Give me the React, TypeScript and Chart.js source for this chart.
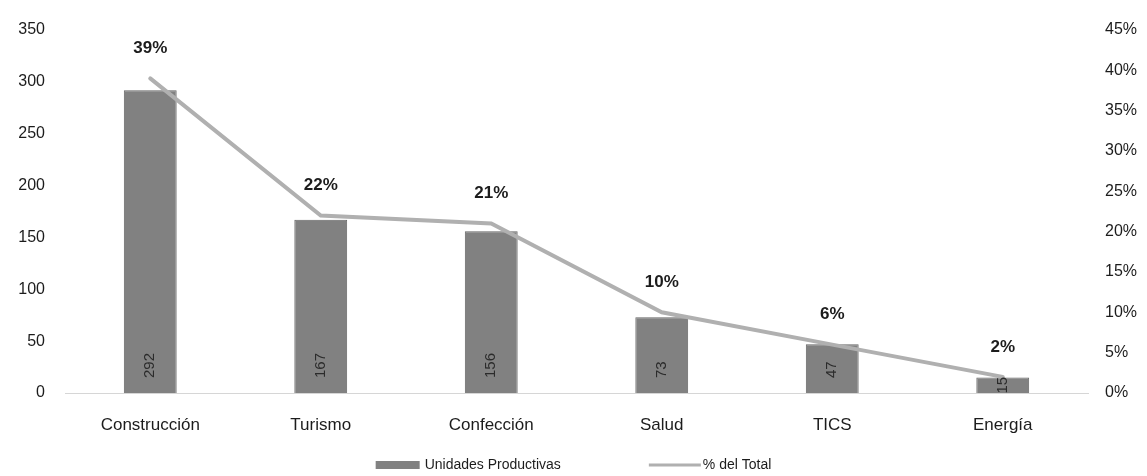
import React, { useEffect, useRef } from "react";
import { Chart, registerables } from "chart.js";

Chart.register(...registerables);

const categories = ["Construcción", "Turismo", "Confección", "Salud", "TICS", "Energía"];
const unidades = [292, 167, 156, 73, 47, 15];
const porcentajes = [39, 22, 21, 10, 6, 2];
const leftTicks = { min: 0, max: 350, step: 50 };
const rightTicks = { min: 0, max: 45, step: 5 };
const seriesNames = ["Unidades Productivas", "% del Total"];

const BAR_COLOR = "#818181";
const BAR_BORDER = "#666666";
const LINE_COLOR = "#b0b0b0";
const TEXT = "#1c1c1c";
const FONT = "'Liberation Sans', Arial, sans-serif";

const labelsPlugin = {
  id: "customLabels",
  afterDatasetsDraw(chart: any) {
    const ctx = chart.ctx;
    ctx.save();
    // value labels inside bars (rotated)
    const barMeta = chart.getDatasetMeta(0);
    barMeta.data.forEach((el: any, i: number) => {
      const base = el.base;
      const h = base - el.y;
      ctx.save();
      ctx.font = `15px ${FONT}`;
      ctx.fillStyle = "#2b2b2b";
      ctx.textBaseline = "middle";
      const txt = String(unidades[i]);
      const tw = ctx.measureText(txt).width;
      ctx.translate(el.x, 0);
      ctx.rotate(-Math.PI / 2);
      if (h < tw + 20) {
        ctx.textAlign = "center";
        ctx.fillText(txt, -(base - h / 2), 0);
      } else {
        ctx.textAlign = "left";
        ctx.fillText(txt, -(base - 15), 0);
      }
      ctx.restore();
    });
    // percentage labels above line points
    const lineMeta = chart.getDatasetMeta(1);
    ctx.font = `bold 17px ${FONT}`;
    ctx.fillStyle = TEXT;
    ctx.textAlign = "center";
    ctx.textBaseline = "middle";
    lineMeta.data.forEach((el: any, i: number) => {
      ctx.fillText(porcentajes[i] + "%", el.x, el.y - 30);
    });
    ctx.restore();
  },
  afterDraw(chart: any) {
    const ctx = chart.ctx;
    ctx.save();
    ctx.font = `14px ${FONT}`;
    const w1 = ctx.measureText(seriesNames[0]).width;
    const w2 = ctx.measureText(seriesNames[1]).width;
    const boxW = 44, gap1 = 5, between = 88, lineW = 52, gap2 = 2;
    const total = boxW + gap1 + w1 + between + lineW + gap2 + w2;
    let x = (chart.width - total) / 2;
    const y = 465;
    ctx.fillStyle = BAR_COLOR;
    ctx.fillRect(x, y - 4, boxW, 8);
    x += boxW + gap1;
    ctx.fillStyle = TEXT;
    ctx.textBaseline = "middle";
    ctx.textAlign = "left";
    ctx.fillText(seriesNames[0], x, y);
    x += w1 + between;
    ctx.strokeStyle = LINE_COLOR;
    ctx.lineWidth = 3;
    ctx.beginPath();
    ctx.moveTo(x, y);
    ctx.lineTo(x + lineW, y);
    ctx.stroke();
    x += lineW + gap2;
    ctx.fillText(seriesNames[1], x, y);
    ctx.restore();
  },
};

export default function App() {
  const ref = useRef<HTMLCanvasElement>(null);
  useEffect(() => {
    document.body.style.margin = "0";
    const chart = new Chart(ref.current!, {
      type: "bar",
      data: {
        labels: categories,
        datasets: [
          {
            type: "bar",
            label: seriesNames[0],
            data: unidades,
            backgroundColor: BAR_COLOR,
            borderColor: BAR_BORDER,
            borderWidth: 1,
            barPercentage: 0.31,
            categoryPercentage: 1,
            yAxisID: "y",
            order: 2,
          },
          {
            type: "line",
            label: seriesNames[1],
            data: porcentajes,
            borderColor: LINE_COLOR,
            borderWidth: 4,
            borderCapStyle: "round",
            pointRadius: 0,
            tension: 0,
            yAxisID: "y1",
            order: 1,
          } as any,
        ],
      },
      options: {
        responsive: false,
        animation: false,
        layout: { padding: { top: 30, left: 0, right: 0, bottom: 22 } },
        plugins: { legend: { display: false }, tooltip: { enabled: false } },
        scales: {
          x: {
            grid: { display: false, drawTicks: false },
            border: { display: true, color: "#d6d6d6", width: 1 },
            ticks: { font: { size: 17, family: FONT }, color: TEXT, padding: 22 },
            afterFit: (s: any) => { s.height = 61; },
          },
          y: {
            position: "left",
            min: leftTicks.min,
            max: leftTicks.max,
            ticks: { stepSize: leftTicks.step, font: { size: 16, family: FONT }, color: TEXT, padding: 20 },
            grid: { display: false, drawTicks: false },
            border: { display: false },
            afterFit: (s: any) => { s.width = 65; },
          },
          y1: {
            position: "right",
            min: rightTicks.min,
            max: rightTicks.max,
            ticks: {
              stepSize: rightTicks.step,
              font: { size: 16, family: FONT },
              color: TEXT,
              padding: 17,
              callback: (v: any) => v + "%",
            },
            grid: { display: false, drawTicks: false },
            border: { display: false },
            afterFit: (s: any) => { s.width = 59; },
          },
        },
      },
      plugins: [labelsPlugin],
    });
    return () => chart.destroy();
  }, []);
  return (
    <div style={{ width: 1147, height: 476, background: "#fff" }}>
      <canvas ref={ref} width={1147} height={476} />
    </div>
  );
}
